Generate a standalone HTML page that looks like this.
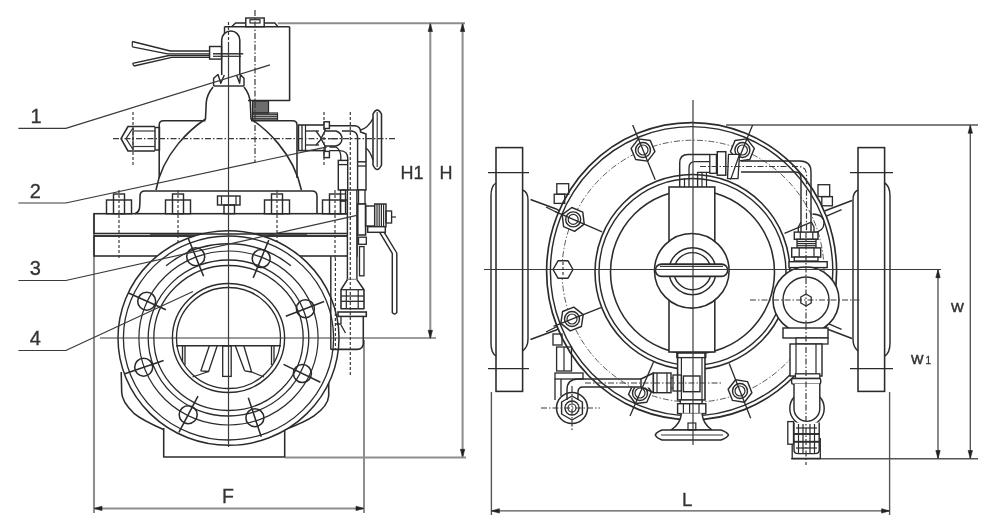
<!DOCTYPE html>
<html><head><meta charset="utf-8"><title>Valve drawing</title>
<style>
html,body{margin:0;padding:0;background:#fff;}
body{width:1000px;height:532px;overflow:hidden;font-family:"Liberation Sans",sans-serif;}
svg{display:block;filter:blur(0.45px);}
text{font-family:"Liberation Sans",sans-serif;}
</style></head><body>
<svg width="1000" height="532" viewBox="0 0 1000 532">
<rect x="0" y="0" width="1000" height="532" fill="#ffffff"/>
<line x1="277.7" y1="23.2" x2="465.0" y2="23.2" stroke="#8e8e8e" stroke-width="2.04"/>
<line x1="430.3" y1="23.5" x2="430.3" y2="338.0" stroke="#8e8e8e" stroke-width="2.04"/>
<line x1="462.6" y1="23.5" x2="462.6" y2="457.5" stroke="#8e8e8e" stroke-width="2.04"/>
<path d="M430.3,23.5 L428.1,31.5 L432.5,31.5 Z" stroke="#222" stroke-width="0.60" fill="#222" stroke-linejoin="round"/>
<path d="M430.3,338.3 L428.1,330.3 L432.5,330.3 Z" stroke="#222" stroke-width="0.60" fill="#222" stroke-linejoin="round"/>
<path d="M462.6,23.5 L460.4,31.5 L464.8,31.5 Z" stroke="#222" stroke-width="0.60" fill="#222" stroke-linejoin="round"/>
<path d="M462.6,457.3 L460.4,449.3 L464.8,449.3 Z" stroke="#222" stroke-width="0.60" fill="#222" stroke-linejoin="round"/>
<line x1="285.0" y1="457.5" x2="466.0" y2="457.5" stroke="#8e8e8e" stroke-width="2.04"/>
<line x1="94.0" y1="214.0" x2="94.0" y2="513.0" stroke="#8e8e8e" stroke-width="2.04"/>
<line x1="364.0" y1="340.0" x2="364.0" y2="513.0" stroke="#8e8e8e" stroke-width="2.04"/>
<line x1="94.0" y1="508.4" x2="364.0" y2="508.4" stroke="#8e8e8e" stroke-width="2.04"/>
<path d="M94.0,508.4 L102.0,506.2 L102.0,510.6 Z" stroke="#222" stroke-width="0.60" fill="#222" stroke-linejoin="round"/>
<path d="M364.0,508.4 L356.0,506.2 L356.0,510.6 Z" stroke="#222" stroke-width="0.60" fill="#222" stroke-linejoin="round"/>
<text x="222" y="503.2" font-size="19.5" text-anchor="start" fill="#333" stroke="#333" stroke-width="0.3">F</text>
<text x="400.6" y="179" font-size="18" text-anchor="start" fill="#333" stroke="#333" stroke-width="0.3">H1</text>
<text x="439.4" y="179" font-size="18" text-anchor="start" fill="#333" stroke="#333" stroke-width="0.3">H</text>
<path d="M231.7,26.7 L235.5,23.0 L275.0,23.0 L277.7,26.7" stroke="#2b2b2b" stroke-width="1.44" fill="none" stroke-linejoin="round"/>
<line x1="224.5" y1="26.7" x2="289.6" y2="26.7" stroke="#2b2b2b" stroke-width="1.56"/>
<line x1="224.5" y1="26.7" x2="224.5" y2="34.0" stroke="#2b2b2b" stroke-width="1.44"/>
<path d="M289.6,26.7 L289.6,100.5 L248.0,100.5" stroke="#2b2b2b" stroke-width="1.56" fill="none" stroke-linejoin="round"/>
<rect x="245.8" y="18.0" width="18.4" height="8.7" rx="0" stroke="#2b2b2b" stroke-width="1.44" fill="#fff"/>
<rect x="250.0" y="19.7" width="10.0" height="3.3" rx="0" stroke="#2b2b2b" stroke-width="1.20" fill="none"/>
<line x1="252.5" y1="102.0" x2="268.5" y2="102.0" stroke="#444" stroke-width="1.56"/>
<line x1="252.5" y1="104.0" x2="268.5" y2="104.0" stroke="#444" stroke-width="1.56"/>
<line x1="252.5" y1="106.0" x2="268.5" y2="106.0" stroke="#444" stroke-width="1.56"/>
<line x1="252.5" y1="108.0" x2="268.5" y2="108.0" stroke="#444" stroke-width="1.56"/>
<line x1="252.5" y1="110.0" x2="268.5" y2="110.0" stroke="#444" stroke-width="1.56"/>
<line x1="252.5" y1="112.0" x2="268.5" y2="112.0" stroke="#444" stroke-width="1.56"/>
<line x1="252.5" y1="114.5" x2="277.5" y2="114.5" stroke="#444" stroke-width="1.56"/>
<line x1="252.5" y1="116.5" x2="277.5" y2="116.5" stroke="#444" stroke-width="1.56"/>
<line x1="252.5" y1="118.5" x2="277.5" y2="118.5" stroke="#444" stroke-width="1.56"/>
<rect x="252.5" y="101.0" width="16.0" height="12.0" rx="0" stroke="#2b2b2b" stroke-width="1.20" fill="none"/>
<rect x="252.5" y="113.0" width="25.0" height="7.0" rx="0" stroke="#2b2b2b" stroke-width="1.20" fill="none"/>
<path d="M221.7,75 L221.7,40 A9,9 0 0 1 239.8,40 L239.8,75" stroke="#2b2b2b" stroke-width="1.56" fill="#fff" stroke-linejoin="round"/>
<rect x="209.6" y="46.5" width="11.9" height="12.6" rx="0" stroke="#2b2b2b" stroke-width="1.44" fill="#fff"/>
<line x1="213.0" y1="53.8" x2="243.2" y2="53.8" stroke="#2b2b2b" stroke-width="1.44"/>
<line x1="213.0" y1="56.3" x2="241.0" y2="56.3" stroke="#2b2b2b" stroke-width="1.20"/>
<path d="M132.3,41.5 L170.4,51.0 L209.6,51.0" stroke="#2b2b2b" stroke-width="1.44" fill="none" stroke-linejoin="round"/>
<path d="M132.3,46.8 L167.6,53.8 L209.6,53.8" stroke="#2b2b2b" stroke-width="1.32" fill="none" stroke-linejoin="round"/>
<path d="M132.6,63.4 L169.0,55.5 L209.6,55.5" stroke="#2b2b2b" stroke-width="1.44" fill="none" stroke-linejoin="round"/>
<path d="M134.0,66.0 L171.8,57.4 L209.6,57.4" stroke="#2b2b2b" stroke-width="1.44" fill="none" stroke-linejoin="round"/>
<line x1="132.3" y1="41.5" x2="132.3" y2="46.8" stroke="#2b2b2b" stroke-width="1.20"/>
<line x1="132.6" y1="63.4" x2="134.0" y2="66.0" stroke="#2b2b2b" stroke-width="1.20"/>
<path d="M213.6,86.0 L213.6,78.3 L218.0,74.5 L220.8,83.2 L224.3,75.0" stroke="#2b2b2b" stroke-width="1.44" fill="none" stroke-linejoin="round"/>
<path d="M244.0,86.0 L244.0,78.3 L240.4,74.8 L239.7,83.2 L236.5,75.0" stroke="#2b2b2b" stroke-width="1.44" fill="none" stroke-linejoin="round"/>
<line x1="213.6" y1="86.0" x2="244.0" y2="86.0" stroke="#2b2b2b" stroke-width="1.44"/>
<path d="M213,87 C209,92 206.5,97 206.2,103 L205.5,119 C192,128 163,152 156,190" stroke="#2b2b2b" stroke-width="1.56" fill="none" stroke-linejoin="round"/>
<path d="M244,87 C248,92 250,97 250.3,103 L251,119 C264.5,128 293.5,152 301.4,190" stroke="#2b2b2b" stroke-width="1.56" fill="none" stroke-linejoin="round"/>
<path d="M205.5,120.8 L163.5,120.8 Q159.2,120.8 159.2,125 L159.2,178" stroke="#2b2b2b" stroke-width="1.56" fill="none" stroke-linejoin="round"/>
<path d="M251,120.8 L292.5,120.8 Q297,120.8 297,125 L297,178" stroke="#2b2b2b" stroke-width="1.56" fill="none" stroke-linejoin="round"/>
<path d="M155.0,126.5 L128.0,126.5 L121.0,138.7 L128.0,151.0 L155.0,151.0" stroke="#2b2b2b" stroke-width="1.56" fill="none" stroke-linejoin="round"/>
<path d="M133.0,128.0 L126.0,138.7 L133.0,149.5" stroke="#2b2b2b" stroke-width="1.20" fill="none" stroke-linejoin="round"/>
<line x1="133.0" y1="128.0" x2="133.0" y2="149.5" stroke="#2b2b2b" stroke-width="1.20"/>
<rect x="155.0" y="127.5" width="4.5" height="22.5" rx="0" stroke="#2b2b2b" stroke-width="1.44" fill="none"/>
<line x1="133.0" y1="131.0" x2="155.0" y2="131.0" stroke="#3a3a3a" stroke-width="1.20"/>
<line x1="133.0" y1="146.5" x2="155.0" y2="146.5" stroke="#3a3a3a" stroke-width="1.20"/>
<path d="M135,213.7 C140,212 140,208 140,196 Q140,191 145,191 L312,191 Q317,191 317,196 L317,213.7" stroke="#2b2b2b" stroke-width="1.56" fill="none" stroke-linejoin="round"/>
<rect x="94.0" y="213.7" width="263.0" height="19.8" rx="0" stroke="#2b2b2b" stroke-width="1.56" fill="none"/>
<line x1="94.0" y1="236.0" x2="357.0" y2="236.0" stroke="#2b2b2b" stroke-width="1.44"/>
<rect x="94.0" y="236.0" width="263.0" height="20.0" rx="0" stroke="#2b2b2b" stroke-width="1.56" fill="none"/>
<rect x="106.5" y="200.0" width="25.0" height="13.7" rx="0" stroke="#2b2b2b" stroke-width="1.44" fill="#fff"/>
<rect x="113.5" y="194.0" width="11.0" height="19.7" rx="0" stroke="#2b2b2b" stroke-width="1.44" fill="none"/>
<line x1="119.0" y1="190.0" x2="119.0" y2="258.0" stroke="#3a3a3a" stroke-width="1.20" stroke-dasharray="3 2"/>
<rect x="165.5" y="200.0" width="25.0" height="13.7" rx="0" stroke="#2b2b2b" stroke-width="1.44" fill="#fff"/>
<rect x="172.5" y="194.0" width="11.0" height="19.7" rx="0" stroke="#2b2b2b" stroke-width="1.44" fill="none"/>
<line x1="178.0" y1="190.0" x2="178.0" y2="258.0" stroke="#3a3a3a" stroke-width="1.20" stroke-dasharray="3 2"/>
<rect x="264.5" y="200.0" width="25.0" height="13.7" rx="0" stroke="#2b2b2b" stroke-width="1.44" fill="#fff"/>
<rect x="271.5" y="194.0" width="11.0" height="19.7" rx="0" stroke="#2b2b2b" stroke-width="1.44" fill="none"/>
<line x1="277.0" y1="190.0" x2="277.0" y2="258.0" stroke="#3a3a3a" stroke-width="1.20" stroke-dasharray="3 2"/>
<rect x="322.5" y="200.0" width="25.0" height="13.7" rx="0" stroke="#2b2b2b" stroke-width="1.44" fill="#fff"/>
<rect x="329.5" y="194.0" width="11.0" height="19.7" rx="0" stroke="#2b2b2b" stroke-width="1.44" fill="none"/>
<line x1="335.0" y1="190.0" x2="335.0" y2="258.0" stroke="#3a3a3a" stroke-width="1.20" stroke-dasharray="3 2"/>
<rect x="217.5" y="196.0" width="22.5" height="9.0" rx="0" stroke="#2b2b2b" stroke-width="1.44" fill="#fff"/>
<rect x="224.0" y="205.0" width="10.5" height="8.7" rx="0" stroke="#2b2b2b" stroke-width="1.44" fill="none"/>
<line x1="221.5" y1="196.0" x2="221.5" y2="205.0" stroke="#2b2b2b" stroke-width="1.20"/>
<line x1="236.0" y1="196.0" x2="236.0" y2="205.0" stroke="#2b2b2b" stroke-width="1.20"/>
<line x1="94.0" y1="256.0" x2="94.0" y2="256.0" stroke="#2b2b2b" stroke-width="1.20"/>
<path d="M121.2,372 L121.7,392.6 Q122,402 133.9,413.3 Q142,420 163.5,429.5" stroke="#2b2b2b" stroke-width="1.56" fill="none" stroke-linejoin="round"/>
<path d="M328.7,371.8 L328.7,396 Q328,406 314,415.8 Q305,422 285,429.5" stroke="#2b2b2b" stroke-width="1.56" fill="none" stroke-linejoin="round"/>
<path d="M163.7,428.0 L163.7,457.0 L284.7,457.0 L284.7,428.0" stroke="#2b2b2b" stroke-width="1.56" fill="none" stroke-linejoin="round"/>
<ellipse cx="228.5" cy="338.0" rx="110.5" ry="107.3" stroke="#2b2b2b" stroke-width="1.5" fill="#fff"/>
<ellipse cx="228.5" cy="338.0" rx="105.1" ry="102.0" stroke="#2b2b2b" stroke-width="1.3" fill="none"/>
<ellipse cx="228.5" cy="338.0" rx="89.6" ry="87.0" stroke="#2b2b2b" stroke-width="1.2" fill="none"/>
<ellipse cx="228.5" cy="338.0" rx="80.3" ry="78.0" stroke="#2b2b2b" stroke-width="1.3" fill="none"/>
<ellipse cx="228.5" cy="338.0" rx="74.7" ry="72.5" stroke="#2b2b2b" stroke-width="1.3" fill="none"/>
<ellipse cx="228.5" cy="338.0" rx="56.1" ry="54.5" stroke="#2b2b2b" stroke-width="1.4" fill="none"/>
<ellipse cx="228.5" cy="338.0" rx="52.0" ry="50.5" stroke="#2b2b2b" stroke-width="1.3" fill="none"/>
<path d="M166.1,265.8 A97.1,94.3 0 0 1 290.9,265.8" stroke="#2b2b2b" stroke-width="1.44" fill="none" stroke-linejoin="round"/>
<circle cx="195.7" cy="256.7" r="9.0" stroke="#2b2b2b" stroke-width="1.56" fill="none"/>
<line x1="203.6" y1="276.2" x2="188.2" y2="238.2" stroke="#2b2b2b" stroke-width="1.56"/>
<circle cx="261.2" cy="258.5" r="9.0" stroke="#2b2b2b" stroke-width="1.56" fill="none"/>
<line x1="253.2" y1="277.9" x2="268.8" y2="240.0" stroke="#2b2b2b" stroke-width="1.56"/>
<circle cx="146.7" cy="301.2" r="9.0" stroke="#2b2b2b" stroke-width="1.56" fill="none"/>
<line x1="165.9" y1="309.8" x2="128.5" y2="293.0" stroke="#2b2b2b" stroke-width="1.56"/>
<circle cx="305.4" cy="308.7" r="9.0" stroke="#2b2b2b" stroke-width="1.56" fill="none"/>
<line x1="285.8" y1="316.2" x2="324.1" y2="301.6" stroke="#2b2b2b" stroke-width="1.56"/>
<circle cx="143.7" cy="367.2" r="9.0" stroke="#2b2b2b" stroke-width="1.56" fill="none"/>
<line x1="163.6" y1="360.4" x2="124.8" y2="373.7" stroke="#2b2b2b" stroke-width="1.56"/>
<circle cx="302.4" cy="373.5" r="9.0" stroke="#2b2b2b" stroke-width="1.56" fill="none"/>
<line x1="283.5" y1="364.4" x2="320.4" y2="382.2" stroke="#2b2b2b" stroke-width="1.56"/>
<circle cx="188.2" cy="414.7" r="9.0" stroke="#2b2b2b" stroke-width="1.56" fill="none"/>
<line x1="198.0" y1="396.1" x2="178.9" y2="432.4" stroke="#2b2b2b" stroke-width="1.56"/>
<circle cx="254.9" cy="417.7" r="9.0" stroke="#2b2b2b" stroke-width="1.56" fill="none"/>
<line x1="248.3" y1="397.8" x2="261.2" y2="436.7" stroke="#2b2b2b" stroke-width="1.56"/>
<line x1="150.0" y1="234.0" x2="307.0" y2="234.0" stroke="#2b2b2b" stroke-width="1.44"/>
<line x1="176.0" y1="345.8" x2="281.0" y2="345.8" stroke="#2b2b2b" stroke-width="1.44"/>
<path d="M182.5,346.0 L182.5,362.0" stroke="#2b2b2b" stroke-width="1.32" fill="none" stroke-linejoin="round"/>
<path d="M185.0,346.0 L185.0,365.0" stroke="#2b2b2b" stroke-width="1.32" fill="none" stroke-linejoin="round"/>
<path d="M271.5,346.0 L271.5,365.0" stroke="#2b2b2b" stroke-width="1.32" fill="none" stroke-linejoin="round"/>
<path d="M274.0,346.0 L274.0,362.0" stroke="#2b2b2b" stroke-width="1.32" fill="none" stroke-linejoin="round"/>
<path d="M209.3,346.0 L200.9,370.8 L208.6,371.5 L217.1,346.0" stroke="#2b2b2b" stroke-width="1.32" fill="none" stroke-linejoin="round"/>
<line x1="208.6" y1="371.5" x2="192.5" y2="377.0" stroke="#2b2b2b" stroke-width="1.32"/>
<path d="M235.4,346.0 L244.6,370.8" stroke="#2b2b2b" stroke-width="1.32" fill="none" stroke-linejoin="round"/>
<path d="M243.9,346.0 L251.6,372.0 L244.6,370.8" stroke="#2b2b2b" stroke-width="1.32" fill="none" stroke-linejoin="round"/>
<line x1="251.6" y1="372.0" x2="264.0" y2="377.0" stroke="#2b2b2b" stroke-width="1.32"/>
<rect x="222.7" y="346.0" width="8.5" height="30.4" rx="0" stroke="#2b2b2b" stroke-width="1.32" fill="none"/>
<rect x="298.5" y="125.0" width="26.5" height="25.6" rx="0" stroke="#2b2b2b" stroke-width="1.56" fill="none"/>
<line x1="302.0" y1="125.0" x2="302.0" y2="150.6" stroke="#2b2b2b" stroke-width="1.32"/>
<line x1="305.5" y1="125.0" x2="305.5" y2="150.6" stroke="#2b2b2b" stroke-width="1.20"/>
<line x1="305.5" y1="131.0" x2="319.0" y2="131.0" stroke="#2b2b2b" stroke-width="1.32"/>
<line x1="305.5" y1="145.0" x2="319.0" y2="145.0" stroke="#2b2b2b" stroke-width="1.32"/>
<path d="M316.0,131.0 L321.5,138.7 L316.0,145.0" stroke="#2b2b2b" stroke-width="1.32" fill="none" stroke-linejoin="round"/>
<path d="M329.4,125.8 L355,125.8 Q360.6,126.5 360.6,132 L366,134 L366,161.8" stroke="#2b2b2b" stroke-width="1.56" fill="none" stroke-linejoin="round"/>
<path d="M342,131 L352,131 Q357.6,132 357.6,138 L357.6,161.8" stroke="#2b2b2b" stroke-width="1.44" fill="none" stroke-linejoin="round"/>
<path d="M325,131 L336,131 Q342,133 342,138.7 Q342,144 336,146 L325,146 L321,138.7 Z" stroke="#2b2b2b" stroke-width="1.44" fill="#fff" stroke-linejoin="round"/>
<line x1="328.0" y1="138.7" x2="338.0" y2="138.7" stroke="#3a3a3a" stroke-width="1.20"/>
<rect x="324.0" y="121.8" width="5.4" height="6.7" rx="0" stroke="#2b2b2b" stroke-width="1.44" fill="#fff"/>
<rect x="324.0" y="151.4" width="5.4" height="6.2" rx="0" stroke="#2b2b2b" stroke-width="1.44" fill="#fff"/>
<path d="M329.4,150.6 L340,150.6 Q347.7,151 347.7,158 L347.7,161" stroke="#2b2b2b" stroke-width="1.44" fill="none" stroke-linejoin="round"/>
<path d="M329.4,147 L336,147 Q340.5,150 340.8,156 L340.8,161" stroke="#2b2b2b" stroke-width="1.32" fill="none" stroke-linejoin="round"/>
<rect x="338.3" y="160.4" width="9.4" height="29.6" rx="0" stroke="#2b2b2b" stroke-width="1.44" fill="#fff"/>
<line x1="338.3" y1="164.6" x2="347.7" y2="164.6" stroke="#2b2b2b" stroke-width="1.32"/>
<rect x="340.5" y="190.0" width="5.0" height="11.0" rx="0" stroke="#2b2b2b" stroke-width="1.32" fill="none"/>
<line x1="340.5" y1="194.0" x2="345.5" y2="194.0" stroke="#2b2b2b" stroke-width="1.20"/>
<rect x="357.6" y="161.8" width="8.4" height="28.2" rx="0" stroke="#2b2b2b" stroke-width="1.44" fill="#fff"/>
<line x1="357.6" y1="166.0" x2="366.0" y2="166.0" stroke="#2b2b2b" stroke-width="1.32"/>
<rect x="340.5" y="201.0" width="5.0" height="12.7" rx="0" stroke="#2b2b2b" stroke-width="1.32" fill="none"/>
<path d="M360.6,130 Q368,128 373,118.5" stroke="#2b2b2b" stroke-width="1.44" fill="none" stroke-linejoin="round"/>
<path d="M366,148 Q370,151 373,160" stroke="#2b2b2b" stroke-width="1.44" fill="none" stroke-linejoin="round"/>
<path d="M373,165 L373,114 Q377.2,106 381.5,114 L381.5,165 Q377.2,174 373,165 Z" stroke="#2b2b2b" stroke-width="1.56" fill="none" stroke-linejoin="round"/>
<line x1="377.2" y1="112.0" x2="377.2" y2="167.0" stroke="#3a3a3a" stroke-width="1.20"/>
<rect x="358.5" y="190.0" width="6.5" height="14.0" rx="0" stroke="#2b2b2b" stroke-width="1.32" fill="#fff"/>
<rect x="357.8" y="204.0" width="7.8" height="31.0" rx="0" stroke="#2b2b2b" stroke-width="1.56" fill="#fff"/>
<rect x="365.6" y="206.0" width="9.1" height="20.0" rx="0" stroke="#2b2b2b" stroke-width="1.44" fill="none"/>
<rect x="374.7" y="204.0" width="11.3" height="22.7" rx="0" stroke="#2b2b2b" stroke-width="1.44" fill="#fff"/>
<line x1="377.0" y1="204.0" x2="377.0" y2="226.7" stroke="#2b2b2b" stroke-width="1.20"/>
<line x1="379.2" y1="204.0" x2="379.2" y2="226.7" stroke="#2b2b2b" stroke-width="1.20"/>
<line x1="381.4" y1="204.0" x2="381.4" y2="226.7" stroke="#2b2b2b" stroke-width="1.20"/>
<line x1="383.6" y1="204.0" x2="383.6" y2="226.7" stroke="#2b2b2b" stroke-width="1.20"/>
<rect x="386.0" y="211.0" width="5.6" height="12.0" rx="0" stroke="#2b2b2b" stroke-width="1.32" fill="none"/>
<line x1="391.6" y1="217.0" x2="396.0" y2="217.0" stroke="#2b2b2b" stroke-width="1.20"/>
<rect x="367.7" y="226.7" width="17.6" height="5.6" rx="0" stroke="#2b2b2b" stroke-width="1.44" fill="#fff"/>
<path d="M379.7,232.3 L392.3,253.4 L392.3,312.5 Q394.5,315.5 396.8,312.5 L396.8,253 L384.2,232.3" stroke="#2b2b2b" stroke-width="1.44" fill="none" stroke-linejoin="round"/>
<rect x="358.5" y="237.2" width="7.8" height="7.1" rx="0" stroke="#2b2b2b" stroke-width="1.32" fill="none"/>
<rect x="347.4" y="190.0" width="9.5" height="89.6" rx="0" stroke="#2b2b2b" stroke-width="1.44" fill="#fff"/>
<rect x="359.5" y="246.6" width="4.5" height="29.2" rx="0" stroke="#2b2b2b" stroke-width="1.32" fill="none"/>
<path d="M347.4,279.6 L341.0,289.7 L341.0,308.8 L364.0,308.8 L364.0,289.7 L356.9,279.6" stroke="#2b2b2b" stroke-width="1.56" fill="#fff" stroke-linejoin="round"/>
<line x1="341.0" y1="289.7" x2="364.0" y2="289.7" stroke="#2b2b2b" stroke-width="1.32"/>
<line x1="341.0" y1="296.0" x2="364.0" y2="296.0" stroke="#2b2b2b" stroke-width="1.32"/>
<line x1="341.0" y1="301.3" x2="364.0" y2="301.3" stroke="#2b2b2b" stroke-width="1.32"/>
<line x1="346.3" y1="289.7" x2="346.3" y2="308.8" stroke="#2b2b2b" stroke-width="1.20"/>
<line x1="358.2" y1="289.7" x2="358.2" y2="308.8" stroke="#2b2b2b" stroke-width="1.20"/>
<rect x="338.0" y="312.0" width="28.3" height="4.4" rx="0" stroke="#2b2b2b" stroke-width="1.56" fill="#fff"/>
<path d="M341,316.4 L341,324 L335.4,324 M341,325 L345.5,333" stroke="#2b2b2b" stroke-width="1.32" fill="none" stroke-linejoin="round"/>
<path d="M363.3,316.4 L363.3,343 Q363.3,349.4 357,349.4 L330.8,349.4" stroke="#2b2b2b" stroke-width="1.56" fill="none" stroke-linejoin="round"/>
<line x1="330.8" y1="256.0" x2="330.8" y2="349.4" stroke="#2b2b2b" stroke-width="1.44"/>
<line x1="335.4" y1="258.0" x2="335.4" y2="349.0" stroke="#3a3a3a" stroke-width="1.20" stroke-dasharray="3 2"/>
<line x1="228.5" y1="45.0" x2="228.5" y2="447.0" stroke="#3a3a3a" stroke-width="1.20"/>
<line x1="228.5" y1="22.0" x2="228.5" y2="45.0" stroke="#3a3a3a" stroke-width="1.20" stroke-dasharray="3 2"/>
<line x1="100.0" y1="338.0" x2="436.0" y2="338.0" stroke="#3a3a3a" stroke-width="1.20"/>
<line x1="255.0" y1="10.0" x2="255.0" y2="163.0" stroke="#3a3a3a" stroke-width="1.20" stroke-dasharray="6 2 1.5 2"/>
<line x1="113.0" y1="138.7" x2="395.0" y2="138.7" stroke="#3a3a3a" stroke-width="1.20" stroke-dasharray="6 2 1.5 2"/>
<line x1="133.0" y1="112.0" x2="133.0" y2="165.0" stroke="#3a3a3a" stroke-width="1.20" stroke-dasharray="3 2"/>
<line x1="324.0" y1="112.0" x2="324.0" y2="165.0" stroke="#3a3a3a" stroke-width="1.20" stroke-dasharray="3 2"/>
<line x1="350.3" y1="112.0" x2="350.3" y2="375.0" stroke="#3a3a3a" stroke-width="1.20" stroke-dasharray="3 2"/>
<text x="30.5" y="122.6" font-size="20" text-anchor="start" fill="#333" stroke="#333" stroke-width="0.3">1</text>
<path d="M18.4,128.4 L65.8,128.4 L270.0,64.9" stroke="#3a3a3a" stroke-width="1.20" fill="none" stroke-linejoin="round"/>
<text x="29.8" y="198" font-size="20" text-anchor="start" fill="#333" stroke="#333" stroke-width="0.3">2</text>
<path d="M18.4,203.0 L65.8,203.0 L327.0,146.9" stroke="#3a3a3a" stroke-width="1.20" fill="none" stroke-linejoin="round"/>
<text x="29.8" y="275" font-size="20" text-anchor="start" fill="#333" stroke="#333" stroke-width="0.3">3</text>
<path d="M18.4,280.5 L65.8,280.5 L358.0,215.2" stroke="#3a3a3a" stroke-width="1.20" fill="none" stroke-linejoin="round"/>
<text x="29.8" y="345" font-size="20" text-anchor="start" fill="#333" stroke="#333" stroke-width="0.3">4</text>
<path d="M18.4,350.5 L65.8,350.5 L193.0,291.5" stroke="#3a3a3a" stroke-width="1.20" fill="none" stroke-linejoin="round"/>
<line x1="726.0" y1="125.0" x2="978.0" y2="125.0" stroke="#555" stroke-width="1.38"/>
<line x1="791.0" y1="458.7" x2="978.0" y2="458.7" stroke="#555" stroke-width="1.38"/>
<line x1="970.3" y1="125.0" x2="970.3" y2="458.7" stroke="#555" stroke-width="1.38"/>
<path d="M970.3,125.2 L968.1,133.2 L972.5,133.2 Z" stroke="#222" stroke-width="0.60" fill="#222" stroke-linejoin="round"/>
<path d="M970.3,458.5 L968.1,450.5 L972.5,450.5 Z" stroke="#222" stroke-width="0.60" fill="#222" stroke-linejoin="round"/>
<line x1="938.0" y1="269.5" x2="938.0" y2="458.7" stroke="#555" stroke-width="1.38"/>
<path d="M938.0,269.7 L935.8,277.7 L940.2,277.7 Z" stroke="#222" stroke-width="0.60" fill="#222" stroke-linejoin="round"/>
<path d="M938.0,458.5 L935.8,450.5 L940.2,450.5 Z" stroke="#222" stroke-width="0.60" fill="#222" stroke-linejoin="round"/>
<line x1="491.4" y1="392.0" x2="491.4" y2="515.0" stroke="#555" stroke-width="1.38"/>
<line x1="889.6" y1="392.0" x2="889.6" y2="515.0" stroke="#555" stroke-width="1.38"/>
<line x1="491.4" y1="510.9" x2="889.6" y2="510.9" stroke="#555" stroke-width="1.38"/>
<path d="M491.4,510.9 L499.4,508.7 L499.4,513.1 Z" stroke="#222" stroke-width="0.60" fill="#222" stroke-linejoin="round"/>
<path d="M889.6,510.9 L881.6,508.7 L881.6,513.1 Z" stroke="#222" stroke-width="0.60" fill="#222" stroke-linejoin="round"/>
<text x="682" y="505.5" font-size="18.7" text-anchor="start" fill="#333" stroke="#333" stroke-width="0.3">L</text>
<text x="950.9" y="312.4" font-size="13.6" text-anchor="start" fill="#333" stroke="#333" stroke-width="0.55">W</text>
<text x="910.9" y="363.7" font-size="13.2" text-anchor="start" fill="#333" stroke="#333" stroke-width="0.55">W</text>
<text x="925.6" y="363.7" font-size="10" text-anchor="start" fill="#333" stroke="#333" stroke-width="0.3">1</text>
<rect x="496.0" y="147.6" width="26.6" height="243.8" rx="0" stroke="#2b2b2b" stroke-width="1.56" fill="#fff"/>
<rect x="858.0" y="147.6" width="26.6" height="243.8" rx="0" stroke="#2b2b2b" stroke-width="1.56" fill="#fff"/>
<path d="M496,183 Q491,186 491,196 L491,343 Q491,353 496,356" stroke="#2b2b2b" stroke-width="1.44" fill="none" stroke-linejoin="round"/>
<path d="M522.6,190 Q528,192 528,200 L528,339 Q528,347 522.6,351" stroke="#2b2b2b" stroke-width="1.44" fill="none" stroke-linejoin="round"/>
<path d="M884.6,183 Q890,186 890,196 L890,343 Q890,353 884.6,356" stroke="#2b2b2b" stroke-width="1.44" fill="none" stroke-linejoin="round"/>
<path d="M858,190 Q853,192 853,200 L853,339 Q853,347 858,351" stroke="#2b2b2b" stroke-width="1.44" fill="none" stroke-linejoin="round"/>
<line x1="488.0" y1="172.6" x2="529.0" y2="172.6" stroke="#2b2b2b" stroke-width="1.32"/>
<line x1="850.0" y1="172.6" x2="893.0" y2="172.6" stroke="#2b2b2b" stroke-width="1.32"/>
<line x1="488.0" y1="368.6" x2="529.0" y2="368.6" stroke="#2b2b2b" stroke-width="1.32"/>
<line x1="850.0" y1="368.6" x2="893.0" y2="368.6" stroke="#2b2b2b" stroke-width="1.32"/>
<path d="M530.5,199.5 L555.5,208.7 L562.0,212.0" stroke="#2b2b2b" stroke-width="1.44" fill="none" stroke-linejoin="round"/>
<line x1="546.0" y1="207.0" x2="562.0" y2="215.0" stroke="#2b2b2b" stroke-width="1.32"/>
<path d="M530.5,339.5 L555.5,330.3 L562.0,327.0" stroke="#2b2b2b" stroke-width="1.44" fill="none" stroke-linejoin="round"/>
<line x1="546.0" y1="332.0" x2="562.0" y2="324.0" stroke="#2b2b2b" stroke-width="1.32"/>
<path d="M852.0,200.5 L824.5,211.0" stroke="#2b2b2b" stroke-width="1.44" fill="none" stroke-linejoin="round"/>
<line x1="841.6" y1="209.7" x2="823.0" y2="217.6" stroke="#2b2b2b" stroke-width="1.32"/>
<path d="M852.0,338.5 L824.5,328.0" stroke="#2b2b2b" stroke-width="1.44" fill="none" stroke-linejoin="round"/>
<line x1="841.6" y1="329.3" x2="823.0" y2="321.4" stroke="#2b2b2b" stroke-width="1.32"/>
<ellipse cx="691.6" cy="271.2" rx="145.0" ry="148.6" stroke="#2b2b2b" stroke-width="1.68" fill="#fff"/>
<ellipse cx="691.6" cy="271.2" rx="141.2" ry="144.6" stroke="#2b2b2b" stroke-width="1.44" fill="none"/>
<ellipse cx="693.0" cy="271.2" rx="131.0" ry="131.0" stroke="#555" stroke-width="0.96" fill="none" stroke-dasharray="6 2 1.5 2"/>
<circle cx="692.5" cy="272.0" r="97.5" stroke="#2b2b2b" stroke-width="1.56" fill="none"/>
<circle cx="692.5" cy="272.0" r="93.5" stroke="#2b2b2b" stroke-width="1.44" fill="none"/>
<circle cx="692.5" cy="272.0" r="82.0" stroke="#2b2b2b" stroke-width="1.56" fill="none"/>
<line x1="784.5" y1="233.3" x2="811.3" y2="222.2" stroke="#2b2b2b" stroke-width="1.32"/>
<path d="M746.9,138.9 L754.3,148.4 L749.8,159.5 L737.9,161.1 L730.5,151.6 L735.0,140.5 Z" stroke="#2b2b2b" stroke-width="1.44" fill="#fff" stroke-linejoin="round"/>
<circle cx="742.4" cy="150.0" r="7.5" stroke="#2b2b2b" stroke-width="1.44" fill="none"/>
<circle cx="742.4" cy="150.0" r="5.0" stroke="#2b2b2b" stroke-width="1.20" fill="none"/>
<line x1="730.4" y1="179.5" x2="752.6" y2="124.9" stroke="#2b2b2b" stroke-width="1.32"/>
<path d="M638.4,138.9 L650.3,140.5 L654.9,151.6 L647.6,161.1 L635.7,159.5 L631.1,148.4 Z" stroke="#2b2b2b" stroke-width="1.44" fill="#fff" stroke-linejoin="round"/>
<circle cx="643.0" cy="150.0" r="7.5" stroke="#2b2b2b" stroke-width="1.44" fill="none"/>
<circle cx="643.0" cy="150.0" r="5.0" stroke="#2b2b2b" stroke-width="1.20" fill="none"/>
<line x1="655.2" y1="179.7" x2="632.7" y2="125.1" stroke="#2b2b2b" stroke-width="1.32"/>
<path d="M562.2,214.6 L571.8,207.5 L582.8,212.2 L584.2,224.2 L574.6,231.3 L563.6,226.6 Z" stroke="#2b2b2b" stroke-width="1.44" fill="#fff" stroke-linejoin="round"/>
<circle cx="573.2" cy="219.4" r="7.5" stroke="#2b2b2b" stroke-width="1.44" fill="none"/>
<circle cx="573.2" cy="219.4" r="5.0" stroke="#2b2b2b" stroke-width="1.20" fill="none"/>
<line x1="602.1" y1="231.9" x2="555.3" y2="211.7" stroke="#2b2b2b" stroke-width="1.32"/>
<path d="M560.8,323.4 L562.6,311.5 L573.8,307.1 L583.2,314.6 L581.4,326.5 L570.2,330.9 Z" stroke="#2b2b2b" stroke-width="1.44" fill="#fff" stroke-linejoin="round"/>
<circle cx="572.0" cy="319.0" r="7.5" stroke="#2b2b2b" stroke-width="1.44" fill="none"/>
<circle cx="572.0" cy="319.0" r="5.0" stroke="#2b2b2b" stroke-width="1.20" fill="none"/>
<line x1="600.9" y1="307.6" x2="553.5" y2="326.3" stroke="#2b2b2b" stroke-width="1.32"/>
<clipPath id="c5"><rect x="620" y="387.6" width="40" height="30"/></clipPath><g clip-path="url(#c5)">
<path d="M635.4,403.5 L628.6,394.3 L633.2,383.8 L644.6,382.5 L651.4,391.7 L646.8,402.2 Z" stroke="#2b2b2b" stroke-width="1.44" fill="#fff" stroke-linejoin="round"/>
<circle cx="640.0" cy="393.0" r="7.5" stroke="#2b2b2b" stroke-width="1.44" fill="none"/>
<circle cx="640.0" cy="393.0" r="5.0" stroke="#2b2b2b" stroke-width="1.20" fill="none"/>
</g>
<line x1="653.5" y1="362.0" x2="630.0" y2="416.1" stroke="#2b2b2b" stroke-width="1.32"/>
<path d="M744.4,402.2 L732.5,400.4 L728.1,389.2 L735.6,379.8 L747.5,381.6 L751.9,392.8 Z" stroke="#2b2b2b" stroke-width="1.44" fill="#fff" stroke-linejoin="round"/>
<circle cx="740.0" cy="391.0" r="7.5" stroke="#2b2b2b" stroke-width="1.44" fill="none"/>
<circle cx="740.0" cy="391.0" r="5.0" stroke="#2b2b2b" stroke-width="1.20" fill="none"/>
<line x1="729.2" y1="363.4" x2="750.7" y2="418.3" stroke="#2b2b2b" stroke-width="1.32"/>
<line x1="784.5" y1="309.1" x2="811.3" y2="320.2" stroke="#2b2b2b" stroke-width="1.32"/>
<path d="M573.0,269.5 L568.0,278.2 L558.0,278.2 L553.0,269.5 L558.0,260.8 L568.0,260.8 Z" stroke="#2b2b2b" stroke-width="1.44" fill="#fff" stroke-linejoin="round"/>
<line x1="563.0" y1="262.0" x2="563.0" y2="277.0" stroke="#3a3a3a" stroke-width="1.20" stroke-dasharray="3 2"/>
<rect x="556.8" y="183.7" width="11.9" height="10.5" rx="0" stroke="#2b2b2b" stroke-width="1.32" fill="none"/>
<rect x="554.2" y="194.2" width="10.5" height="9.2" rx="0" stroke="#2b2b2b" stroke-width="1.32" fill="none"/>
<rect x="818.0" y="184.7" width="11.7" height="11.9" rx="0" stroke="#2b2b2b" stroke-width="1.32" fill="none"/>
<rect x="821.8" y="196.6" width="10.6" height="9.2" rx="0" stroke="#2b2b2b" stroke-width="1.32" fill="none"/>
<rect x="553.0" y="334.0" width="9.0" height="11.0" rx="0" stroke="#2b2b2b" stroke-width="1.32" fill="none"/>
<rect x="556.6" y="347.0" width="14.9" height="24.0" rx="0" stroke="#2b2b2b" stroke-width="1.32" fill="none"/>
<rect x="669.0" y="187.0" width="45.8" height="165.0" rx="0" stroke="#2b2b2b" stroke-width="1.56" fill="#fff"/>
<circle cx="691.8" cy="270.8" r="37.3" stroke="#2b2b2b" stroke-width="1.56" fill="#fff"/>
<circle cx="692.5" cy="271.2" r="23.5" stroke="#2b2b2b" stroke-width="1.44" fill="none"/>
<circle cx="692.5" cy="271.2" r="18.6" stroke="#2b2b2b" stroke-width="1.44" fill="none"/>
<rect x="655.4" y="264.1" width="72.3" height="12.3" rx="6.1" stroke="#2b2b2b" stroke-width="1.56" fill="#fff"/>
<line x1="660.0" y1="266.3" x2="723.0" y2="266.3" stroke="#3a3a3a" stroke-width="1.20"/>
<path d="M679.7,187 L679.7,163 Q679.7,154.5 688,154.5 L709.8,154.5" stroke="#2b2b2b" stroke-width="1.44" fill="none" stroke-linejoin="round"/>
<path d="M689,187 L689,168 Q689,161.7 695,161.7 L709.8,161.7" stroke="#2b2b2b" stroke-width="1.32" fill="none" stroke-linejoin="round"/>
<path d="M697.6,187 L697.6,172.4 L709.8,172.4" stroke="#2b2b2b" stroke-width="1.32" fill="none" stroke-linejoin="round"/>
<line x1="684.5" y1="178.0" x2="684.5" y2="187.0" stroke="#2b2b2b" stroke-width="1.20"/>
<line x1="702.0" y1="172.4" x2="702.0" y2="187.0" stroke="#2b2b2b" stroke-width="1.20"/>
<line x1="706.5" y1="172.4" x2="706.5" y2="187.0" stroke="#2b2b2b" stroke-width="1.20"/>
<rect x="709.8" y="154.5" width="6.6" height="18.8" rx="0" stroke="#2b2b2b" stroke-width="1.32" fill="none"/>
<rect x="717.3" y="151.7" width="8.5" height="23.5" rx="0" stroke="#2b2b2b" stroke-width="1.44" fill="none"/>
<path d="M728.5,154.4 L739.5,154.4 L738.0,178.6 L727.5,178.6 Z" stroke="#2b2b2b" stroke-width="1.32" fill="#fff" stroke-linejoin="round"/>
<line x1="739.5" y1="154.4" x2="731.0" y2="178.6" stroke="#2b2b2b" stroke-width="1.32"/>
<path d="M741,161 L800,161 Q811,161 811,172 L811,232" stroke="#2b2b2b" stroke-width="1.44" fill="none" stroke-linejoin="round"/>
<path d="M741,172 L795,172 Q801,172 801,178 L801,232" stroke="#2b2b2b" stroke-width="1.44" fill="none" stroke-linejoin="round"/>
<path d="M700,166.5 L798,166.5 Q806.5,166.5 806.5,175 L806.5,232" stroke="#3a3a3a" stroke-width="1.20" fill="none" stroke-linejoin="round" stroke-dasharray="6 2 1.5 2"/>
<path d="M812.5,214 Q824,214.5 824,223 Q824,231.5 813,233" stroke="#2b2b2b" stroke-width="1.32" fill="none" stroke-linejoin="round"/>
<path d="M801,222 L798.3,227 L798.3,232.1 M811.4,222 L814,227 L814,232.1" stroke="#2b2b2b" stroke-width="1.32" fill="none" stroke-linejoin="round"/>
<rect x="794.3" y="232.1" width="23.7" height="7.2" rx="0" stroke="#2b2b2b" stroke-width="1.44" fill="#fff"/>
<line x1="800.3" y1="232.1" x2="800.3" y2="239.3" stroke="#2b2b2b" stroke-width="1.20"/>
<line x1="812.8" y1="232.1" x2="812.8" y2="239.3" stroke="#2b2b2b" stroke-width="1.20"/>
<rect x="797.0" y="239.3" width="19.0" height="8.6" rx="0" stroke="#2b2b2b" stroke-width="1.32" fill="#fff"/>
<line x1="797.0" y1="241.5" x2="816.0" y2="241.5" stroke="#2b2b2b" stroke-width="1.20"/>
<line x1="797.0" y1="243.6" x2="816.0" y2="243.6" stroke="#2b2b2b" stroke-width="1.20"/>
<line x1="797.0" y1="245.7" x2="816.0" y2="245.7" stroke="#2b2b2b" stroke-width="1.20"/>
<rect x="791.7" y="247.9" width="29.0" height="9.2" rx="0" stroke="#2b2b2b" stroke-width="1.44" fill="#fff"/>
<line x1="799.2" y1="247.9" x2="799.2" y2="257.1" stroke="#2b2b2b" stroke-width="1.20"/>
<line x1="814.0" y1="247.9" x2="814.0" y2="257.1" stroke="#2b2b2b" stroke-width="1.20"/>
<rect x="794.3" y="257.1" width="23.7" height="3.9" rx="0" stroke="#2b2b2b" stroke-width="1.32" fill="#fff"/>
<rect x="789.0" y="261.7" width="38.2" height="5.9" rx="0" stroke="#2b2b2b" stroke-width="1.44" fill="#fff"/>
<circle cx="806.0" cy="300.0" r="33.0" stroke="#2b2b2b" stroke-width="1.56" fill="#fff"/>
<circle cx="806.0" cy="300.0" r="23.0" stroke="#2b2b2b" stroke-width="1.44" fill="none"/>
<path d="M811.2,303.0 L806.0,306.0 L800.8,303.0 L800.8,297.0 L806.0,294.0 L811.2,297.0 Z" stroke="#2b2b2b" stroke-width="1.32" fill="none" stroke-linejoin="round"/>
<rect x="783.0" y="328.0" width="45.0" height="10.0" rx="0" stroke="#2b2b2b" stroke-width="1.44" fill="#fff"/>
<rect x="796.0" y="338.0" width="32.0" height="6.0" rx="0" stroke="#2b2b2b" stroke-width="1.32" fill="#fff"/>
<rect x="790.0" y="344.0" width="32.0" height="32.0" rx="0" stroke="#2b2b2b" stroke-width="1.44" fill="#fff"/>
<line x1="796.0" y1="344.0" x2="796.0" y2="376.0" stroke="#2b2b2b" stroke-width="1.20"/>
<line x1="816.0" y1="344.0" x2="816.0" y2="376.0" stroke="#2b2b2b" stroke-width="1.20"/>
<rect x="795.4" y="373.8" width="24.4" height="4.7" rx="0" stroke="#2b2b2b" stroke-width="1.32" fill="#fff"/>
<rect x="791.6" y="378.5" width="29.1" height="5.6" rx="1.5" stroke="#2b2b2b" stroke-width="1.44" fill="#fff"/>
<circle cx="807.0" cy="408.5" r="17.2" stroke="#2b2b2b" stroke-width="1.44" fill="none"/>
<path d="M794,384 L794,408.5 A12.9,12.9 0 0 0 819.8,408.5 L819.8,384" stroke="#2b2b2b" stroke-width="1.44" fill="#fff" stroke-linejoin="round"/>
<rect x="787.8" y="421.6" width="5.7" height="22.6" rx="0" stroke="#2b2b2b" stroke-width="1.32" fill="#fff"/>
<path d="M794,422.6 L794,450 Q794,453.6 798,453.6 L815,453.6 Q819.2,453.6 819.2,450 L819.2,422.6" stroke="#2b2b2b" stroke-width="1.44" fill="#fff" stroke-linejoin="round"/>
<path d="M792.2,444.2 L792.2,458.5 L820.3,458.5 L820.3,438" stroke="#2b2b2b" stroke-width="1.32" fill="none" stroke-linejoin="round"/>
<line x1="794.0" y1="434.0" x2="819.2" y2="434.0" stroke="#2b2b2b" stroke-width="1.92"/>
<line x1="794.0" y1="441.8" x2="819.2" y2="441.8" stroke="#2b2b2b" stroke-width="1.92"/>
<line x1="796.0" y1="428.0" x2="817.0" y2="428.0" stroke="#2b2b2b" stroke-width="1.20"/>
<line x1="796.0" y1="448.0" x2="817.0" y2="448.0" stroke="#2b2b2b" stroke-width="1.20"/>
<line x1="798.5" y1="424.0" x2="798.5" y2="453.0" stroke="#2b2b2b" stroke-width="1.20"/>
<line x1="803.0" y1="424.0" x2="803.0" y2="453.0" stroke="#2b2b2b" stroke-width="1.20"/>
<line x1="810.0" y1="424.0" x2="810.0" y2="453.0" stroke="#2b2b2b" stroke-width="1.20"/>
<line x1="814.5" y1="424.0" x2="814.5" y2="453.0" stroke="#2b2b2b" stroke-width="1.20"/>
<rect x="677.6" y="352.8" width="27.4" height="47.2" rx="0" stroke="#2b2b2b" stroke-width="1.56" fill="#fff"/>
<line x1="681.4" y1="357.0" x2="681.4" y2="400.0" stroke="#2b2b2b" stroke-width="1.20"/>
<line x1="702.0" y1="357.0" x2="702.0" y2="400.0" stroke="#2b2b2b" stroke-width="1.20"/>
<rect x="676.8" y="352.8" width="29.0" height="4.8" rx="0" stroke="#2b2b2b" stroke-width="1.32" fill="none"/>
<rect x="680.3" y="400.0" width="21.7" height="3.7" rx="0" stroke="#2b2b2b" stroke-width="1.32" fill="#fff"/>
<rect x="677.6" y="403.7" width="28.2" height="9.9" rx="0" stroke="#2b2b2b" stroke-width="1.44" fill="#fff"/>
<line x1="683.4" y1="403.7" x2="683.4" y2="413.6" stroke="#2b2b2b" stroke-width="1.20"/>
<line x1="689.6" y1="403.7" x2="689.6" y2="413.6" stroke="#2b2b2b" stroke-width="1.20"/>
<line x1="699.0" y1="403.7" x2="699.0" y2="413.6" stroke="#2b2b2b" stroke-width="1.20"/>
<path d="M681.4,413.6 Q680.5,424 671,430 L712,430 Q703,424 702,413.6" stroke="#2b2b2b" stroke-width="1.44" fill="#fff" stroke-linejoin="round"/>
<path d="M662,430 L721,430 Q727,432 728.5,435 Q727,438 721,440 L662,440 Q656.5,438 655.3,435 Q656.5,432 662,430 Z" stroke="#2b2b2b" stroke-width="1.56" fill="#fff" stroke-linejoin="round"/>
<line x1="661.0" y1="435.0" x2="723.0" y2="435.0" stroke="#3a3a3a" stroke-width="1.20"/>
<rect x="688.0" y="423.0" width="7.8" height="7.0" rx="0" stroke="#2b2b2b" stroke-width="1.20" fill="none"/>
<rect x="555.0" y="373.0" width="28.0" height="6.0" rx="0" stroke="#2b2b2b" stroke-width="1.32" fill="none"/>
<line x1="555.0" y1="379.0" x2="555.0" y2="400.0" stroke="#2b2b2b" stroke-width="1.32"/>
<line x1="561.0" y1="379.0" x2="561.0" y2="396.0" stroke="#2b2b2b" stroke-width="1.32"/>
<line x1="564.0" y1="347.0" x2="564.0" y2="371.0" stroke="#2b2b2b" stroke-width="1.20"/>
<circle cx="572.0" cy="408.0" r="15.5" stroke="#2b2b2b" stroke-width="1.56" fill="#fff"/>
<path d="M582.4,414.0 L572.0,420.0 L561.6,414.0 L561.6,402.0 L572.0,396.0 L582.4,402.0 Z" stroke="#2b2b2b" stroke-width="1.44" fill="none" stroke-linejoin="round"/>
<circle cx="572.0" cy="408.0" r="7.0" stroke="#2b2b2b" stroke-width="1.32" fill="none"/>
<circle cx="572.0" cy="408.0" r="4.0" stroke="#2b2b2b" stroke-width="1.20" fill="none"/>
<path d="M567,400 L567,390 Q567,379 578,379 L641,379 M641,387 L583,387 Q578,387 578,392 L578,400" stroke="#2b2b2b" stroke-width="1.44" fill="none" stroke-linejoin="round"/>
<path d="M641.0,379.0 L653.4,373.0 L653.4,392.7 L641.0,387.0 Z" stroke="#2b2b2b" stroke-width="1.44" fill="none" stroke-linejoin="round"/>
<rect x="653.4" y="373.0" width="17.6" height="19.7" rx="0" stroke="#2b2b2b" stroke-width="1.44" fill="#fff"/>
<rect x="673.0" y="375.0" width="8.4" height="16.0" rx="0" stroke="#2b2b2b" stroke-width="1.32" fill="none"/>
<rect x="683.4" y="376.0" width="16.6" height="15.7" rx="0" stroke="#2b2b2b" stroke-width="1.44" fill="none"/>
<line x1="671.0" y1="378.0" x2="673.0" y2="378.0" stroke="#2b2b2b" stroke-width="1.20"/>
<line x1="671.0" y1="388.0" x2="673.0" y2="388.0" stroke="#2b2b2b" stroke-width="1.20"/>
<line x1="657.0" y1="373.0" x2="657.0" y2="392.7" stroke="#2b2b2b" stroke-width="1.20"/>
<line x1="667.0" y1="373.0" x2="667.0" y2="392.7" stroke="#2b2b2b" stroke-width="1.20"/>
<line x1="541.0" y1="408.0" x2="600.0" y2="408.0" stroke="#3a3a3a" stroke-width="1.20" stroke-dasharray="6 2 1.5 2"/>
<line x1="572.0" y1="386.0" x2="572.0" y2="431.0" stroke="#3a3a3a" stroke-width="1.20" stroke-dasharray="6 2 1.5 2"/>
<line x1="585.0" y1="383.0" x2="722.0" y2="383.0" stroke="#3a3a3a" stroke-width="1.20" stroke-dasharray="6 2 1.5 2"/>
<line x1="750.0" y1="300.0" x2="860.0" y2="300.0" stroke="#3a3a3a" stroke-width="1.20" stroke-dasharray="6 2 1.5 2"/>
<line x1="806.0" y1="232.0" x2="806.0" y2="465.0" stroke="#3a3a3a" stroke-width="1.20" stroke-dasharray="6 2 1.5 2"/>
<line x1="693.0" y1="100.0" x2="693.0" y2="445.0" stroke="#3a3a3a" stroke-width="1.20"/>
<line x1="484.0" y1="269.5" x2="941.0" y2="269.5" stroke="#3a3a3a" stroke-width="1.20"/>
</svg>
</body></html>
